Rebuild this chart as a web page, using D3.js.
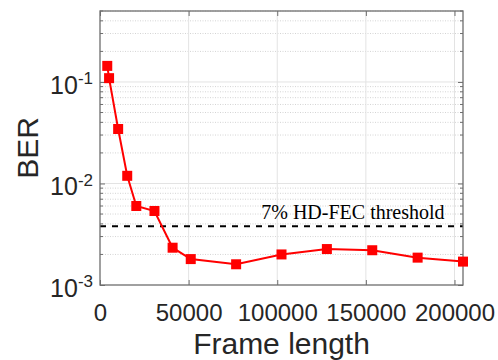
<!DOCTYPE html>
<html>
<head>
<meta charset="utf-8">
<script src="https://cdn.jsdelivr.net/npm/d3@7"></script>
<style>
  body { margin: 0; background: #fff; }
  svg { display: block; }
</style>
</head>
<body>
<div id="chart"></div>
<script>
'use strict'

// Data
const frameLength = [4096, 5120, 10240, 15360, 20480, 30720, 40960, 51200, 76800, 102400, 128000, 153600, 179200, 204800]
const ber = [0.144, 0.109, 0.0344, 0.0119, 0.0060, 0.00536, 0.00233, 0.00180, 0.00160, 0.00200, 0.00226, 0.00220, 0.00186, 0.00170]
const xTicks = [0, 50000, 100000, 150000, 200000]
const yTicks = [1e-3, 1e-2, 1e-1]
const yTickExp = ['-3', '-2', '-1']
const fecThreshold = 3.8e-3
const fecLabel = '7% HD-FEC threshold'

const data = frameLength.map((f, i) => ({ f: f, b: ber[i] }))

const margin = { top: 11, right: 35, bottom: 75, left: 100 }
const W = 498
const H = 360
const width = W - margin.left - margin.right
const height = H - margin.top - margin.bottom

const svg = d3.select('#chart')
  .append('svg')
  .attr('width', W)
  .attr('height', H)
  .append('g')
  .attr('transform', `translate(${margin.left}, ${margin.top})`)

const xScale = d3.scaleLinear()
  .domain([0, 204800])
  .range([0, width])

const yScale = d3.scaleLog()
  .domain([1e-3, 0.5])
  .range([height, 0])

// minor values for log grid
const minorY = []
for (let e = -3; e <= -1; e++) {
  for (let m = 2; m <= 9; m++) {
    const v = m * Math.pow(10, e)
    if (v <= 0.5) minorY.push(v)
  }
}

// Minor grid (dotted)
svg.selectAll('.minor-grid')
  .data(minorY)
  .enter()
  .append('line')
  .attr('x1', 0)
  .attr('x2', width)
  .attr('y1', d => yScale(d))
  .attr('y2', d => yScale(d))
  .attr('stroke', '#d4d4d4')
  .attr('stroke-width', 1)
  .attr('stroke-dasharray', '1,1.5')

// Major grid
svg.selectAll('.major-grid-y')
  .data(yTicks.slice(1))
  .enter()
  .append('line')
  .attr('x1', 0)
  .attr('x2', width)
  .attr('y1', d => yScale(d))
  .attr('y2', d => yScale(d))
  .attr('stroke', '#e3e3e3')
  .attr('stroke-width', 1)

svg.selectAll('.major-grid-x')
  .data(xTicks.slice(1))
  .enter()
  .append('line')
  .attr('x1', d => xScale(d))
  .attr('x2', d => xScale(d))
  .attr('y1', 0)
  .attr('y2', height)
  .attr('stroke', '#e3e3e3')
  .attr('stroke-width', 1)

// Threshold line
svg.append('line')
  .attr('x1', 0)
  .attr('x2', width)
  .attr('y1', yScale(fecThreshold))
  .attr('y2', yScale(fecThreshold))
  .attr('stroke', '#000')
  .attr('stroke-width', 2)
  .attr('stroke-dasharray', '6,6')

svg.append('text')
  .attr('x', xScale(142700))
  .attr('y', yScale(fecThreshold) - 7)
  .attr('text-anchor', 'middle')
  .style('font-family', '"Liberation Serif", "Times New Roman", serif')
  .style('font-size', '20px')
  .attr('fill', '#000')
  .text(fecLabel)

// Axes
const axisColor = '#6e6e6e'

const xAxis = svg.append('g')
  .attr('transform', `translate(0, ${height})`)
  .call(d3.axisBottom(xScale).tickValues(xTicks).tickSize(-5).tickPadding(19).tickFormat(d3.format('d')))
xAxis.select('.domain').remove()
xAxis.selectAll('.tick line').attr('stroke', axisColor)
xAxis.selectAll('.tick text')
  .attr('fill', '#262626')
  .style('font-family', '"Liberation Sans", Arial, sans-serif')
  .style('font-size', '24px')

const xTop = svg.append('g')
  .call(d3.axisTop(xScale).tickValues(xTicks).tickSize(-5).tickFormat(''))
xTop.select('.domain').remove()
xTop.selectAll('.tick line').attr('stroke', axisColor)

const yAxis = svg.append('g')
  .call(d3.axisLeft(yScale).tickValues(yTicks).tickSize(-5).tickPadding(7).tickFormat(''))
yAxis.select('.domain').remove()
yAxis.selectAll('.tick line').attr('stroke', axisColor)
yAxis.selectAll('.tick text')
  .attr('fill', '#262626')
  .attr('dy', '0.45em')
  .style('font-family', '"Liberation Sans", Arial, sans-serif')
  .style('font-size', '25px')
  .each(function (d, i) {
    const t = d3.select(this)
    t.append('tspan').text('10')
    t.append('tspan')
      .attr('dy', '-0.55em')
      .style('font-size', '17px')
      .text(yTickExp[i])
  })

// minor ticks on both y sides
svg.selectAll('.minor-tick-l')
  .data(minorY)
  .enter()
  .append('line')
  .attr('x1', 0)
  .attr('x2', 3)
  .attr('y1', d => yScale(d))
  .attr('y2', d => yScale(d))
  .attr('stroke', axisColor)

const yRight = svg.append('g')
  .attr('transform', `translate(${width}, 0)`)
  .call(d3.axisRight(yScale).tickValues(yTicks).tickSize(-5).tickFormat(''))
yRight.select('.domain').remove()
yRight.selectAll('.tick line').attr('stroke', axisColor)

svg.selectAll('.minor-tick-r')
  .data(minorY)
  .enter()
  .append('line')
  .attr('x1', width - 3)
  .attr('x2', width)
  .attr('y1', d => yScale(d))
  .attr('y2', d => yScale(d))
  .attr('stroke', axisColor)

// box
svg.append('rect')
  .attr('x', 0)
  .attr('y', 0)
  .attr('width', width)
  .attr('height', height)
  .attr('fill', 'none')
  .attr('stroke', axisColor)
  .attr('stroke-width', 1.3)

// Series
const line = d3.line()
  .x(d => xScale(d.f))
  .y(d => yScale(d.b))

svg.append('path')
  .datum(data)
  .attr('d', line)
  .attr('fill', 'none')
  .attr('stroke', '#ff0000')
  .attr('stroke-width', 2)

svg.selectAll('.marker')
  .data(data)
  .enter()
  .append('rect')
  .attr('x', d => xScale(d.f) - 5)
  .attr('y', d => yScale(d.b) - 5)
  .attr('width', 10)
  .attr('height', 10)
  .attr('fill', '#ff0000')

// Axis labels
svg.append('text')
  .attr('x', width / 2)
  .attr('y', height + 69)
  .attr('text-anchor', 'middle')
  .attr('fill', '#262626')
  .style('font-family', '"Liberation Sans", Arial, sans-serif')
  .style('font-size', '30px')
  .text('Frame length')

svg.append('text')
  .attr('transform', `translate(${38 - margin.left}, ${height / 2}) rotate(-90)`)
  .attr('text-anchor', 'middle')
  .attr('fill', '#262626')
  .style('font-family', '"Liberation Sans", Arial, sans-serif')
  .style('font-size', '30px')
  .text('BER')
</script>
</body>
</html>
